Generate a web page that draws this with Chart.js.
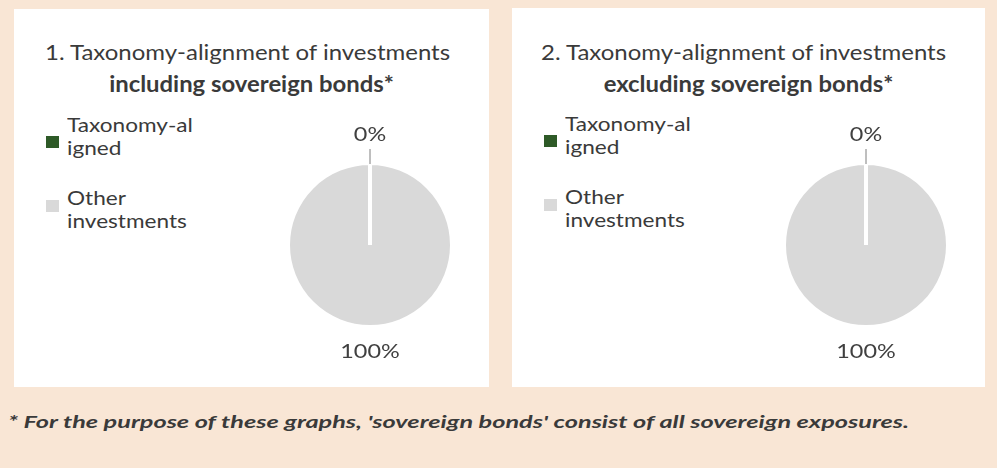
<!DOCTYPE html>
<html>
<head>
<meta charset="utf-8">
<script src="https://cdn.jsdelivr.net/npm/chart.js@4/dist/chart.umd.min.js"></script>
<style>
    body { margin: 0; width: 997px; height: 468px; background: #f9e6d5; font-family: Lato, "Open Sans", sans-serif; color: #3a3a3a; position: relative; overflow: hidden; }
    .panel { position: absolute; background: #ffffff; }
    .t1, .t2 { position: absolute; white-space: nowrap; font-size: 22px; line-height: 24px; }
    .t1 { transform: scaleX(1.09); transform-origin: left center; }
    .t2 { font-weight: bold; text-align: center; left: 0; right: 0; transform: scaleX(1.085); transform-origin: 50% 50%; }
    .leg { position: absolute; font-size: 20px; line-height: 22.5px; }
    .leg .sq { position: absolute; width: 13px; height: 12px; }
    .leg .tx { position: absolute; white-space: nowrap; transform: scaleX(1.13); transform-origin: left center; }
    .box { position: absolute; width: 240px; height: 280px; }
    #nota { position: absolute; left: 8px; top: 411px; font-size: 17px; font-style: italic; font-weight: bold; color: #3a3a3a; white-space: nowrap; transform: scaleX(1.485); transform-origin: left center; }
</style>
</head>
<body>
<div class="panel" id="panel1" style="left:14px;top:9px;width:475px;height:378px">
    <div class="t1" style="left:31px;top:31px">1. Taxonomy-alignment of investments</div>
    <div class="t2" style="top:63px">including sovereign bonds*</div>
    <div class="leg" id="leyenda1"></div>
    <div class="box" style="left:236px;top:96px"><canvas id="grafica1"></canvas></div>
</div>
<div class="panel" id="panel2" style="left:512px;top:8px;width:473px;height:379px">
    <div class="t1" style="left:29px;top:32px">2. Taxonomy-alignment of investments</div>
    <div class="t2" style="top:64px">excluding sovereign bonds*</div>
    <div class="leg" id="leyenda2"></div>
    <div class="box" style="left:234px;top:97px"><canvas id="grafica2"></canvas></div>
</div>
<div id="nota">* For the purpose of these graphs, 'sovereign bonds' consist of all sovereign exposures.</div>

<script>
const categorias = ["Taxonomy-aligned", "Other investments"];
const lineasLeyenda = [["Taxonomy-al", "igned"], ["Other", "investments"]];
const colores = ["#2e5a27", "#d9d9d9"];
const valoresIncluyendo = [0, 100];
const valoresExcluyendo = [0, 100];

// etiquetas de porcentaje con linea guia para los sectores pequenos
const etiquetas = {
    id: "etiquetas",
    afterDatasetsDraw(chart) {
        const ctx = chart.ctx;
        const datos = chart.data.datasets[0].data;
        const total = datos.reduce((a, b) => a + b, 0);
        chart.getDatasetMeta(0).data.forEach((arco, i) => {
            const { x, y, startAngle, endAngle, outerRadius } = arco.getProps(["x", "y", "startAngle", "endAngle", "outerRadius"], true);
            const angulo = (startAngle + endAngle) / 2;
            const pct = datos[i] / total * 100;
            const pequeno = pct < 5;
            const dist = pequeno ? outerRadius + 28 : outerRadius + 25;
            ctx.save();
            if (pequeno) {
                ctx.strokeStyle = "#7f7f7f";
                ctx.lineWidth = 1;
                ctx.beginPath();
                ctx.moveTo(x + Math.cos(angulo) * (outerRadius - 1), y + Math.sin(angulo) * (outerRadius - 1));
                ctx.lineTo(x + Math.cos(angulo) * (outerRadius + 14), y + Math.sin(angulo) * (outerRadius + 14));
                ctx.stroke();
            }
            ctx.fillStyle = "#404040";
            ctx.font = "20px Lato, 'Open Sans', sans-serif";
            ctx.textAlign = "center";
            ctx.textBaseline = "middle";
            ctx.translate(x + Math.cos(angulo) * dist, y + Math.sin(angulo) * dist);
            ctx.scale(1.17, 1);
            ctx.fillText(Math.round(pct) + "%", 0, 0);
            ctx.restore();
        });
    }
};

function crearLeyenda(id) {
    const cont = document.getElementById(id);
    const posiciones = [{ sq: 127, tx: 104 }, { sq: 191, tx: 177 }];
    categorias.forEach((cat, i) => {
        const sq = document.createElement("div");
        sq.className = "sq";
        sq.style.left = "32px";
        sq.style.top = posiciones[i].sq + "px";
        sq.style.background = colores[i];
        const tx = document.createElement("div");
        tx.className = "tx";
        tx.style.left = "53px";
        tx.style.top = posiciones[i].tx + "px";
        tx.title = cat;
        tx.innerHTML = lineasLeyenda[i].join("<br>");
        cont.append(sq, tx);
    });
}

function crearGrafica(id, valores) {
    return new Chart(document.getElementById(id), {
        type: "pie",
        data: {
            labels: categorias,
            datasets: [{
                data: valores,
                backgroundColor: colores,
                borderColor: "#ffffff",
                borderWidth: 4,
                borderJoinStyle: "miter"
            }]
        },
        options: {
            responsive: true,
            maintainAspectRatio: false,
            animation: false,
            radius: 82,
            plugins: {
                legend: { display: false },
                tooltip: { enabled: false }
            }
        },
        plugins: [etiquetas]
    });
}

crearLeyenda("leyenda1");
crearLeyenda("leyenda2");
crearGrafica("grafica1", valoresIncluyendo);
crearGrafica("grafica2", valoresExcluyendo);
</script>
</body>
</html>
